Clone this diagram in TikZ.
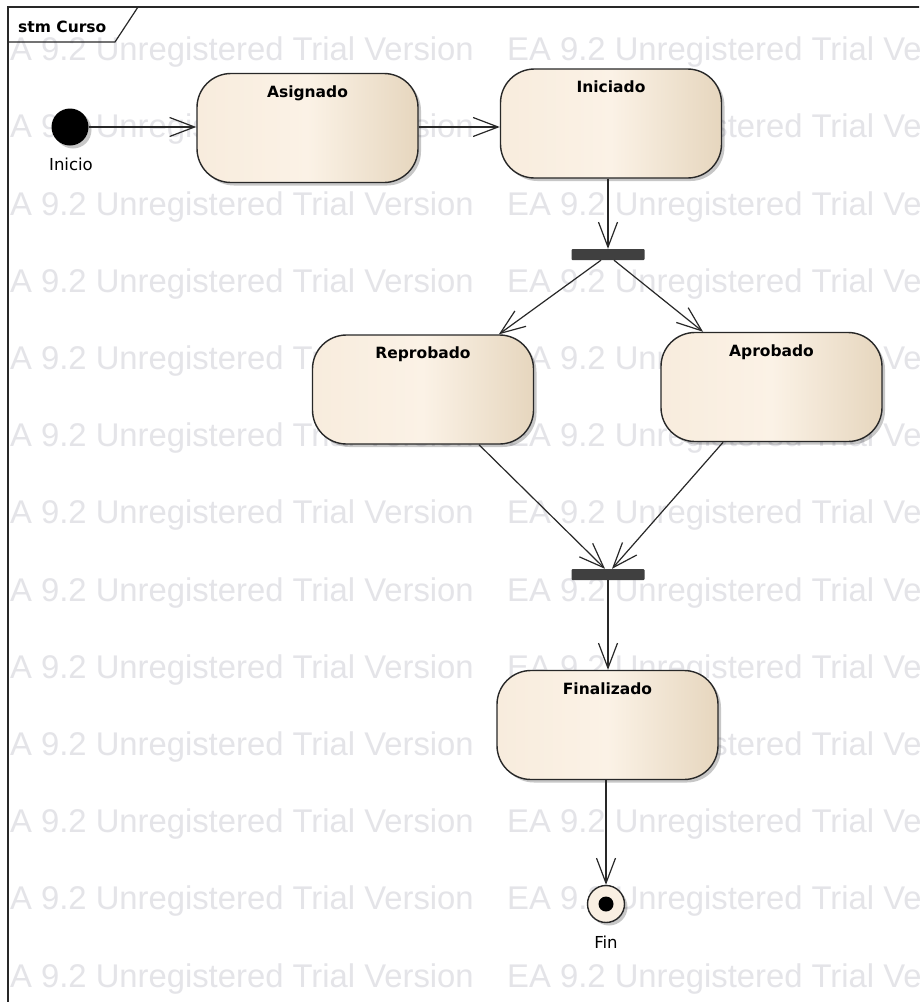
\documentclass[tikz,border=0pt]{standalone}
\usepackage{fontspec}
\usetikzlibrary{arrows.meta,shadows,calc}
\newfontfamily\wmfont{Liberation Sans}
\newfontfamily\uifont{DejaVu Sans}
\definecolor{wmgray}{RGB}{228,228,232}
\definecolor{edge}{RGB}{40,40,40}
\definecolor{boxL}{RGB}{248,236,221}
\definecolor{boxM}{RGB}{251,242,230}
\definecolor{boxR}{RGB}{230,214,190}
\definecolor{barc}{RGB}{64,64,64}
\definecolor{fincream}{RGB}{249,239,226}
\begin{document}
\begin{tikzpicture}[x=1pt,y=-1pt,
  wm/.style={inner sep=0pt, text=wmgray, font=\wmfont\fontsize{32.8}{36}\selectfont},
  statebox/.style={draw=edge, line width=1.4pt, rounded corners=34pt,
    left color=boxL, right color=boxR, middle color=boxM,
    drop shadow={shadow xshift=3pt, shadow yshift=-3pt, fill=black, opacity=0.22},
    minimum width=221pt, inner sep=0pt, text height=23.5pt, text depth=85.5pt,
    font=\uifont\bfseries\fontsize{15.5}{18}\selectfont, text=black},
  barnode/.style={fill=barc, minimum width=73pt, minimum height=11pt, inner sep=0pt, rounded corners=1pt},
  lbl/.style={inner sep=0pt, font=\uifont\fontsize{16.5}{19}\selectfont, text=black},
  trans/.style={draw=edge, line width=1.2pt, -{Straight Barb[length=25pt,width=19pt,line width=1.2pt]}}
]
\clip (0,0) rectangle (919,1002);
\fill[white] (0,0) rectangle (919,1002);
% watermark
\begin{scope}
\clip (9,0) rectangle (919,1002);
\foreach \k in {0,...,12} {
  \node[wm, anchor=base west] (wmA\k) at (-12,{60.6+77.2*\k}) {EA 9.2 Unregistered Trial Version};
  \node[wm, anchor=base west] (wmB\k) at (507,{60.6+77.2*\k}) {EA 9.2 Unregistered Trial Version};
}
\end{scope}
% frame
\draw[edge, line width=1.4pt] (8,1010) -- (8,7) -- (930,7);
\draw[edge, line width=1.2pt] (8,42) -- (115,42) -- (138,7);
\node[anchor=base west, inner sep=0pt, font=\uifont\bfseries\fontsize{15.5}{18}\selectfont] (title) at (18,32) {stm Curso};
% initial
\node[circle, fill=black, minimum size=37pt, inner sep=0pt,
  drop shadow={shadow xshift=3pt, shadow yshift=-3pt, fill=black, opacity=0.22}] (inicio) at (70,127) {};
\node[lbl] (inicioLbl) at (71,164) {Inicio};
% states
\node[statebox] (asignado) at (307.5,128) {Asignado};
\node[statebox] (iniciado) at (611,123.5) {Iniciado};
\node[statebox] (reprobado) at (423,389.5) {Reprobado};
\node[statebox] (aprobado) at (771.5,387) {Aprobado};
\node[statebox] (finalizado) at (607.5,725) {Finalizado};
% bars
\node[barnode] (fork) at (608,254.5) {};
\node[barnode] (join) at (608,574.5) {};
% final
\node[circle, draw=edge, line width=1.4pt, fill=fincream, minimum size=37pt, inner sep=0pt,
  drop shadow={shadow xshift=3pt, shadow yshift=-3pt, fill=black, opacity=0.22}] (fin) at (606,904) {};
\node[circle, fill=black, minimum size=15pt, inner sep=0pt] (finDot) at (fin) {};
\node[lbl] (finLbl) at (606,942) {Fin};
% transitions
\draw[trans] (inicio) -- (asignado.west |- inicio);
\draw[trans] (asignado.east |- inicio) -- (iniciado.west |- inicio);
\draw[trans] (iniciado.south -| fork) -- (fork.north);
\draw[trans] ($(fork.south)+(-7,0)$) -- (reprobado);
\draw[trans] ($(fork.south)+(6,0)$) -- (aprobado);
\draw[trans] (reprobado) -- ($(join.north)+(-3,0)$);
\draw[trans] (aprobado) -- ($(join.north)+(4,0)$);
\draw[trans] (join.south) -- (finalizado.north -| join);
\draw[trans] (finalizado.south -| fin) -- (fin.north);
\end{tikzpicture}
\end{document}
